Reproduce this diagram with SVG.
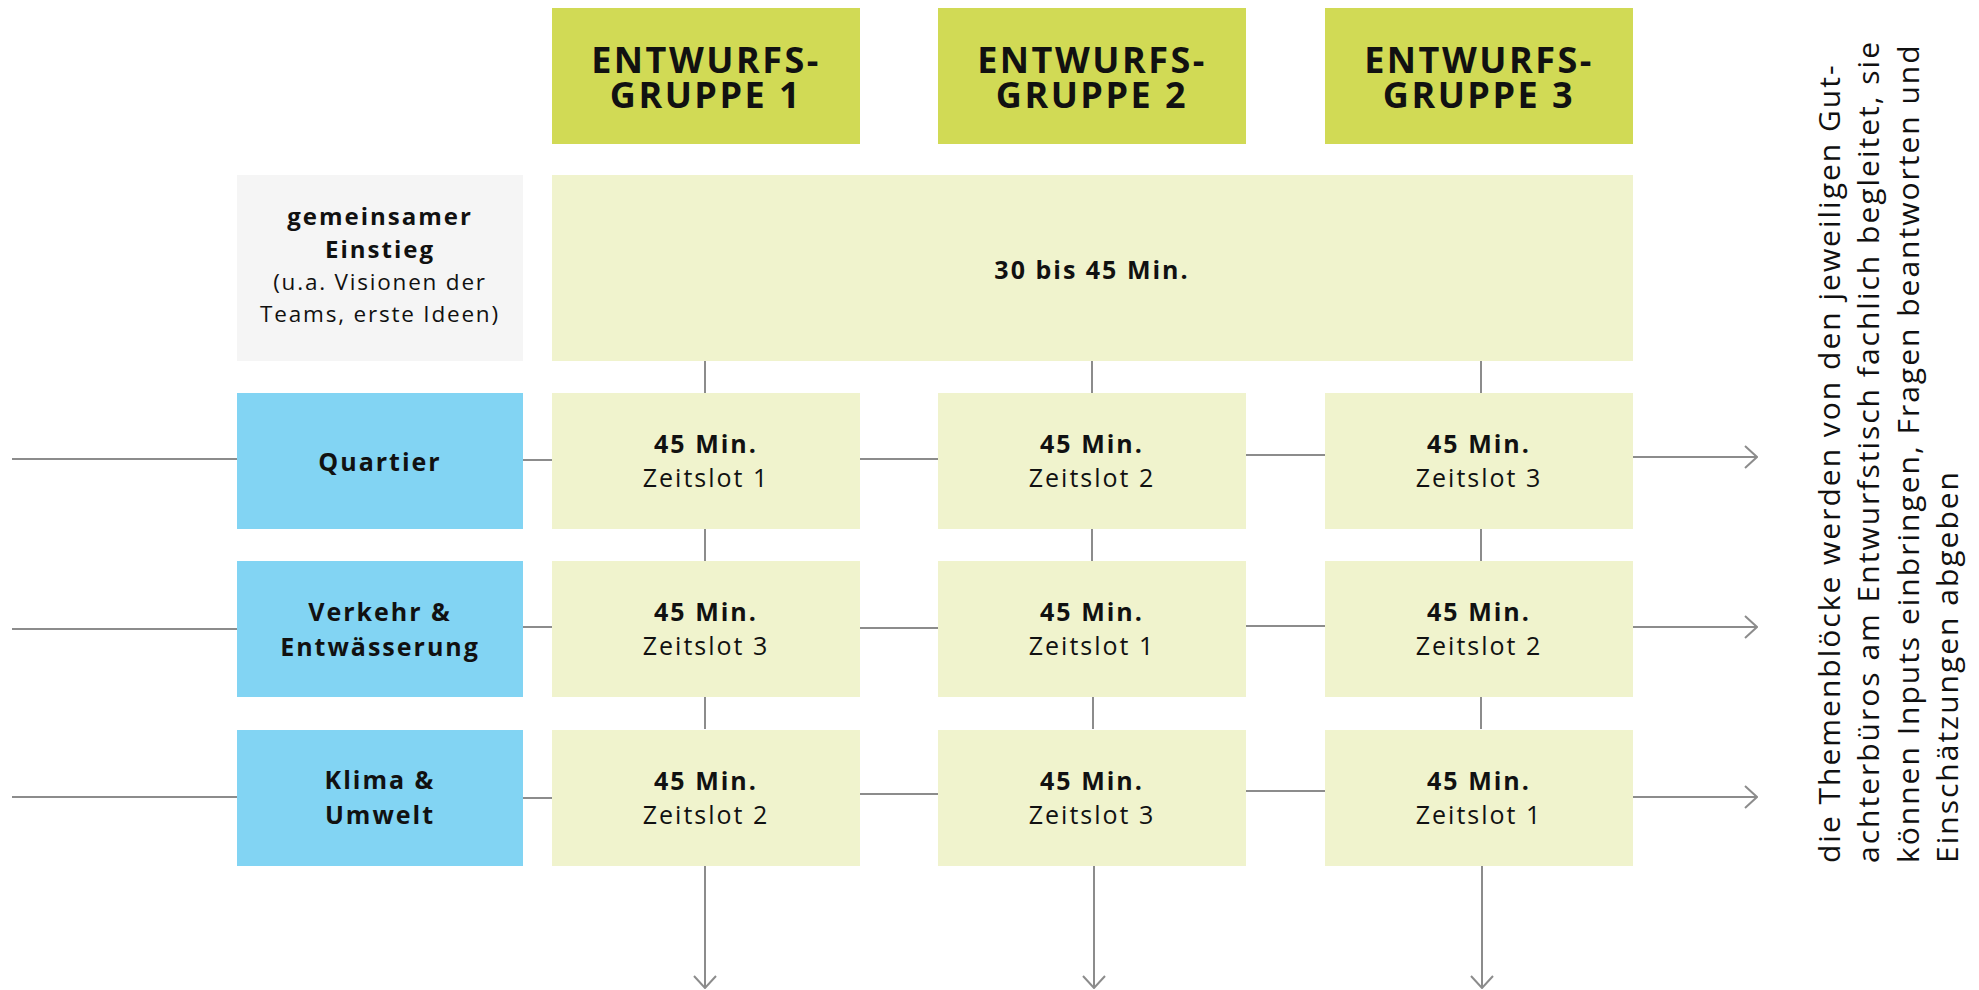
<svg xmlns="http://www.w3.org/2000/svg" width="1979" height="990" viewBox="0 0 1979 990">
<defs>
<style>
.t{font-family:"Open Sans","Noto Sans",sans-serif;fill:#111;text-anchor:middle;letter-spacing:2px}
.b{font-weight:bold;font-size:25px}
.r{font-size:25px}
.h{font-weight:bold;font-size:36px;letter-spacing:2.5px}
.g{fill:#D1DA55}
.y{fill:#F0F3CD}
.c{fill:#82D4F3}
.gr{fill:#F5F5F5}
.ln{stroke:#8C8C8C;stroke-width:2;fill:none}
.side{font-family:"Open Sans","Noto Sans",sans-serif;font-size:30px;letter-spacing:2px;fill:#111}
</style>
<marker id="arr" viewBox="0 0 14 24" refX="13" refY="12" markerWidth="14" markerHeight="24" markerUnits="userSpaceOnUse" orient="auto">
<path d="M1,1 L13,12 L1,23" fill="none" stroke="#8C8C8C" stroke-width="2"/>
</marker>
</defs>
<rect width="1979" height="990" fill="#fff"/>
<g id="connectors" class="ln">
<line x1="12" y1="459" x2="237" y2="459"/>
<line x1="12" y1="629" x2="237" y2="629"/>
<line x1="12" y1="797" x2="237" y2="797"/>
<line x1="523" y1="460" x2="552" y2="460"/>
<line x1="523" y1="627" x2="552" y2="627"/>
<line x1="523" y1="798" x2="552" y2="798"/>
<line x1="860" y1="459" x2="938" y2="459"/>
<line x1="860" y1="628" x2="938" y2="628"/>
<line x1="860" y1="794" x2="938" y2="794"/>
<line x1="1246" y1="455" x2="1325" y2="455"/>
<line x1="1246" y1="626" x2="1325" y2="626"/>
<line x1="1246" y1="791" x2="1325" y2="791"/>
<line x1="1633" y1="457" x2="1757" y2="457" marker-end="url(#arr)"/>
<line x1="1633" y1="627" x2="1757" y2="627" marker-end="url(#arr)"/>
<line x1="1633" y1="797" x2="1757" y2="797" marker-end="url(#arr)"/>
<line x1="705" y1="361" x2="705" y2="393"/>
<line x1="1092" y1="361" x2="1092" y2="393"/>
<line x1="1481" y1="361" x2="1481" y2="393"/>
<line x1="705" y1="529" x2="705" y2="561"/>
<line x1="1092" y1="529" x2="1092" y2="561"/>
<line x1="1481" y1="529" x2="1481" y2="561"/>
<line x1="705" y1="697" x2="705" y2="729"/>
<line x1="1093" y1="697" x2="1093" y2="729"/>
<line x1="1481" y1="697" x2="1481" y2="729"/>
<line x1="705" y1="866" x2="705" y2="988" marker-end="url(#arr)"/>
<line x1="1094" y1="866" x2="1094" y2="988" marker-end="url(#arr)"/>
<line x1="1482" y1="866" x2="1482" y2="988" marker-end="url(#arr)"/>
</g>
<g id="gruppe1"><rect class="g" x="552" y="8" width="308" height="136"/><text class="t h"><tspan x="706" y="73">ENTWURFS-</tspan><tspan x="706" y="108">GRUPPE 1</tspan></text></g>
<g id="gruppe2"><rect class="g" x="938" y="8" width="308" height="136"/><text class="t h"><tspan x="1092" y="73">ENTWURFS-</tspan><tspan x="1092" y="108">GRUPPE 2</tspan></text></g>
<g id="gruppe3"><rect class="g" x="1325" y="8" width="308" height="136"/><text class="t h"><tspan x="1479" y="73">ENTWURFS-</tspan><tspan x="1479" y="108">GRUPPE 3</tspan></text></g>
<g id="einstieg"><rect class="gr" x="237" y="175" width="286" height="186"/>
<text class="t b" style="font-size:24px"><tspan x="380" y="225">gemeinsamer</tspan><tspan x="380" y="258">Einstieg</tspan></text>
<text class="t r" style="font-size:22.5px;letter-spacing:1.8px"><tspan x="380" y="290">(u.a. Visionen der</tspan><tspan x="380" y="322">Teams, erste Ideen)</tspan></text></g>
<g id="einstieg-zeit"><rect class="y" x="552" y="175" width="1081" height="186"/><text class="t b" x="1092" y="279">30 bis 45 Min.</text></g>
<g id="quartier"><rect class="c" x="237" y="393" width="286" height="136"/><text class="t b" x="380" y="471">Quartier</text></g>
<g id="verkehr"><rect class="c" x="237" y="561" width="286" height="136"/><text class="t b"><tspan x="380" y="621">Verkehr &amp;</tspan><tspan x="380" y="656">Entwässerung</tspan></text></g>
<g id="klima"><rect class="c" x="237" y="730" width="286" height="136"/><text class="t b"><tspan x="380" y="789">Klima &amp;</tspan><tspan x="380" y="824">Umwelt</tspan></text></g>
<g id="q1"><rect class="y" x="552" y="393" width="308" height="136"/><text class="t b" x="706" y="453">45 Min.</text><text class="t r" x="706" y="487">Zeitslot 1</text></g>
<g id="q2"><rect class="y" x="938" y="393" width="308" height="136"/><text class="t b" x="1092" y="453">45 Min.</text><text class="t r" x="1092" y="487">Zeitslot 2</text></g>
<g id="q3"><rect class="y" x="1325" y="393" width="308" height="136"/><text class="t b" x="1479" y="453">45 Min.</text><text class="t r" x="1479" y="487">Zeitslot 3</text></g>
<g id="v1"><rect class="y" x="552" y="561" width="308" height="136"/><text class="t b" x="706" y="621">45 Min.</text><text class="t r" x="706" y="655">Zeitslot 3</text></g>
<g id="v2"><rect class="y" x="938" y="561" width="308" height="136"/><text class="t b" x="1092" y="621">45 Min.</text><text class="t r" x="1092" y="655">Zeitslot 1</text></g>
<g id="v3"><rect class="y" x="1325" y="561" width="308" height="136"/><text class="t b" x="1479" y="621">45 Min.</text><text class="t r" x="1479" y="655">Zeitslot 2</text></g>
<g id="k1"><rect class="y" x="552" y="730" width="308" height="136"/><text class="t b" x="706" y="790">45 Min.</text><text class="t r" x="706" y="824">Zeitslot 2</text></g>
<g id="k2"><rect class="y" x="938" y="730" width="308" height="136"/><text class="t b" x="1092" y="790">45 Min.</text><text class="t r" x="1092" y="824">Zeitslot 3</text></g>
<g id="k3"><rect class="y" x="1325" y="730" width="308" height="136"/><text class="t b" x="1479" y="790">45 Min.</text><text class="t r" x="1479" y="824">Zeitslot 1</text></g>
<g id="hinweis">
<text class="side" transform="translate(1840,863) rotate(-90)"><tspan x="0" y="0">die Themenblöcke werden von den jeweiligen Gut-</tspan><tspan x="0" y="39.3">achterbüros am Entwurfstisch fachlich begleitet, sie</tspan><tspan x="0" y="78.6">können Inputs einbringen, Fragen beantworten und</tspan><tspan x="0" y="117.9">Einschätzungen abgeben</tspan></text>
</g>
</svg>
